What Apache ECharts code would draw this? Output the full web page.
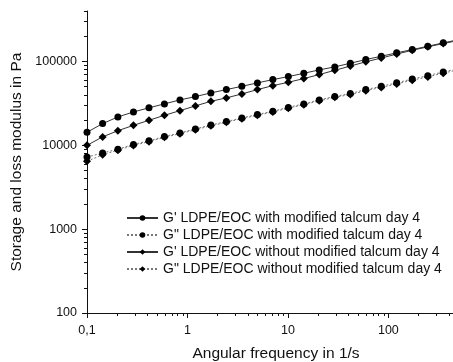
<!DOCTYPE html>
<html>
<head>
<meta charset="utf-8">
<script src="https://cdn.jsdelivr.net/npm/echarts@6/dist/echarts.min.js"></script>
<style>
  html, body { margin: 0; padding: 0; background: #fff; }
  #chart { width: 453px; height: 362px; }
</style>
</head>
<body>
<div id="chart"></div>
<script>
// angular frequency, 1/s (last point lies past the axis end and gets clipped)
const freq = [0.1, 0.143, 0.203, 0.29, 0.414, 0.59, 0.842, 1.2, 1.71, 2.44, 3.48, 4.97, 7.08,
  10.1, 14.4, 20.5, 29.3, 41.8, 59.6, 85, 121, 173, 247, 352, 502]

const gpWith = [14300, 18150, 21800, 25000, 28000, 31200, 34800, 38100, 42200, 46200, 50600, 55500, 60800,
  66000, 72300, 79400, 86200, 95200, 105400, 115400, 126800, 138700, 151800, 166700, 182000]
const gppWith = [7250, 8100, 9000, 10250, 11300, 12750, 14050, 15700, 17450, 19200, 21200, 23300, 25500,
  28350, 31200, 34800, 38300, 41400, 46300, 50500, 55700, 61800, 67700, 75000, 82500]
const gpWithout = [10000, 12600, 14950, 17300, 19900, 22800, 25900, 29500, 33500, 36800, 41000, 46200, 51500,
  56500, 62500, 69800, 78500, 88100, 99100, 109900, 122500, 136100, 149400, 163700, 178500]
const gppWithout = [6450, 7700, 8750, 9970, 11050, 12450, 13750, 15350, 17100, 18800, 20800, 22800, 25000,
  27750, 30500, 33900, 37400, 40300, 44900, 49000, 54000, 59800, 65500, 72600, 79800]

const seriesNames = [
  "G' LDPE/EOC with modified talcum day 4",
  'G" LDPE/EOC with modified talcum day 4',
  "G' LDPE/EOC without modified talcum day 4",
  'G" LDPE/EOC without modified talcum day 4'
]

const X_MIN = 0.1, X_MAX = 440
const Y_MIN = 100, Y_MAX = 400000
const xMinorTicks = [0.2, 0.3, 0.4, 0.5, 0.6, 0.7, 0.8, 0.9, 2, 3, 4, 5, 6, 7, 8, 9,
  20, 30, 40, 50, 60, 70, 80, 90, 200, 300, 400]
const yMinorTicks = [200, 300, 400, 500, 600, 700, 800, 900, 2000, 3000, 4000, 5000, 6000, 7000, 8000, 9000,
  20000, 30000, 40000, 50000, 60000, 70000, 80000, 90000, 200000, 300000, 400000]

const FONT = 'Liberation Sans, Arial, sans-serif'
const AXIS_COLOR = '#111'

const decadeLabel = (v) => {
  const l = Math.log10(v)
  if (Math.abs(l - Math.round(l)) > 1e-6) return ''
  return String(v).replace('.', ',')
}

const pairs = (ys) => freq.map((f, i) => [f, ys[i]])

const makeSeries = (name, ys, symbol, dashed) => ({
  name,
  type: 'line',
  xAxisIndex: 0,
  yAxisIndex: 0,
  data: pairs(ys),
  symbol,
  symbolSize: symbol === 'diamond' ? 8 : 7,
  clip: true,
  itemStyle: { color: '#000' },
  lineStyle: dashed
    ? { color: '#777', width: 1, type: [2, 2] }
    : { color: '#333', width: 1, type: 'solid' },
  emphasis: { disabled: true },
  animation: false
})

const minorAxis = (ticks, lo, hi, pos) => ({
  type: 'value',
  gridIndex: 0,
  position: pos,
  min: Math.log10(lo),
  max: Math.log10(hi),
  axisLine: { show: false, onZero: false },
  axisLabel: { show: false },
  splitLine: { show: false },
  axisTick: {
    show: true,
    inside: false,
    length: 3,
    customValues: ticks.map((t) => Math.log10(t)),
    lineStyle: { color: AXIS_COLOR, width: 1 }
  }
})

const chart = echarts.init(document.getElementById('chart'), null, { renderer: 'canvas' })

chart.setOption({
  animation: false,
  backgroundColor: '#fff',
  grid: { left: 87, right: 0, top: 11, bottom: 49, containLabel: false, outerBoundsMode: 'none' },
  legend: {
    orient: 'vertical',
    left: 121,
    top: 206,
    itemWidth: 31,
    itemHeight: 7,
    itemGap: 3,
    padding: 5,
    selectedMode: false,
    textStyle: { fontFamily: FONT, fontSize: 14, color: '#111' },
    data: seriesNames
  },
  xAxis: [
    {
      type: 'log',
      logBase: 10,
      min: X_MIN,
      max: X_MAX,
      position: 'bottom',
      name: 'Angular frequency in 1/s',
      nameLocation: 'middle',
      nameGap: 33,
      nameTextStyle: { fontFamily: FONT, fontSize: 15.5, color: '#111', padding: [0, 0, 0, 12] },
      axisLine: { show: true, onZero: false, lineStyle: { color: AXIS_COLOR, width: 1 } },
      axisTick: { show: true, inside: false, length: 5, lineStyle: { color: AXIS_COLOR } },
      axisLabel: { fontFamily: FONT, fontSize: 12.5, color: '#111', margin: 11, formatter: decadeLabel,
        showMaxLabel: false },
      splitLine: { show: false },
      minorTick: { show: false }
    },
    minorAxis(xMinorTicks, X_MIN, X_MAX, 'bottom')
  ],
  yAxis: [
    {
      type: 'log',
      logBase: 10,
      min: Y_MIN,
      max: Y_MAX,
      position: 'left',
      name: 'Storage and loss modulus in Pa',
      nameLocation: 'middle',
      nameGap: 57,
      nameTextStyle: { fontFamily: FONT, fontSize: 15.5, color: '#111', padding: 0 },
      axisLine: { show: true, onZero: false, lineStyle: { color: AXIS_COLOR, width: 1 } },
      axisTick: { show: true, inside: false, length: 5, lineStyle: { color: AXIS_COLOR } },
      axisLabel: { fontFamily: FONT, fontSize: 12.5, color: '#111', margin: 10, formatter: decadeLabel,
        showMaxLabel: false },
      splitLine: { show: false },
      minorTick: { show: false }
    },
    minorAxis(yMinorTicks, Y_MIN, Y_MAX, 'left')
  ],
  series: [
    makeSeries(seriesNames[0], gpWith, 'circle', false),
    makeSeries(seriesNames[1], gppWith, 'circle', true),
    makeSeries(seriesNames[2], gpWithout, 'diamond', false),
    makeSeries(seriesNames[3], gppWithout, 'diamond', true)
  ]
})
</script>
</body>
</html>
